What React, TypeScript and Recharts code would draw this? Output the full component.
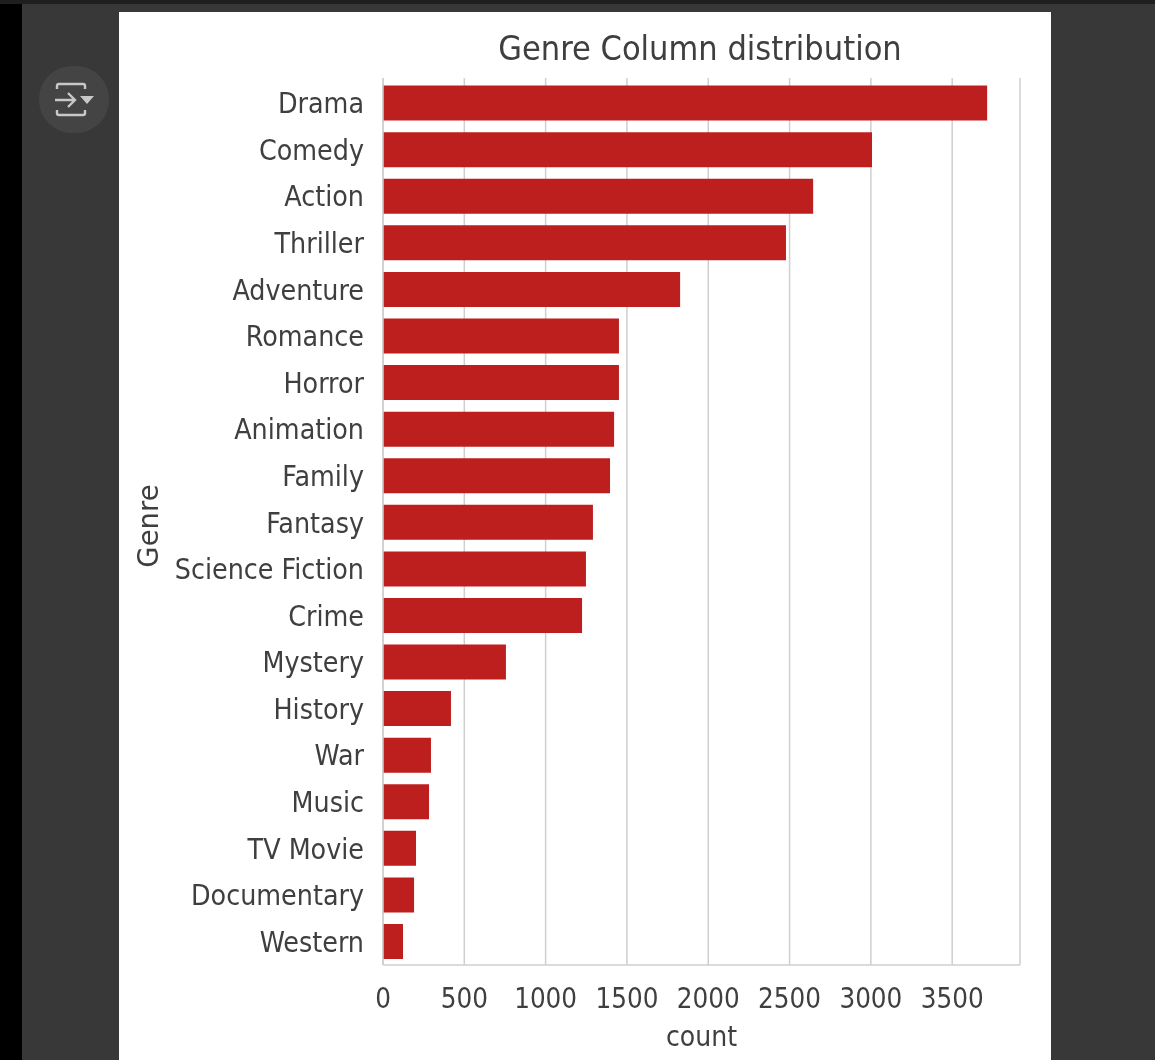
import { Bar, BarChart, CartesianGrid, XAxis, YAxis } from 'recharts'

const genres = ['Drama', 'Comedy', 'Action', 'Thriller', 'Adventure', 'Romance', 'Horror', 'Animation', 'Family', 'Fantasy', 'Science Fiction', 'Crime', 'Mystery', 'History', 'War', 'Music', 'TV Movie', 'Documentary', 'Western']
const counts = [3715, 3007, 2645, 2478, 1827, 1451, 1451, 1421, 1396, 1291, 1248, 1224, 756, 418, 295, 283, 203, 191, 123]
const countTicks = [0, 500, 1000, 1500, 2000, 2500, 3000, 3500]

const data = genres.map((genre, i) => ({ genre, count: counts[i] }))

const font = '"DejaVu Sans Condensed", "DejaVu Sans", sans-serif'
const textColor = '#3f3f3f'
const gridColor = '#cfcfcf'

function ExportIcon() {
  return (
    <div style={{ position: 'absolute', left: 39, top: 66, width: 70, height: 67, borderRadius: 33, background: '#444444' }}>
      <svg width={70} height={67} fill="none" stroke="#c8c8c8" strokeWidth={2.4}>
        <path d="M18 23 v-3 q0 -2 2 -2 h24 q2 0 2 2 v3" />
        <path d="M18 44 v3 q0 2 2 2 h24 q2 0 2 -2 v-3" />
        <path d="M16 34 h20 M29 27 l7 7 l-7 7" />
        <path d="M41 30 h14 l-7 8 z" fill="#c8c8c8" stroke="none" />
      </svg>
    </div>
  )
}

export default function App() {
  return (
    <div style={{ position: 'absolute', left: 0, top: 0, width: 1155, height: 1060, background: '#383838', overflow: 'hidden' }}>
      <div style={{ position: 'absolute', left: 0, top: 0, width: 22, height: 1060, background: '#000000' }} />
      <div style={{ position: 'absolute', left: 0, top: 0, width: 1155, height: 4, background: '#1f1f1f' }} />
      <ExportIcon />
      <div style={{ position: 'absolute', left: 119, top: 12, width: 932, height: 1048, background: '#ffffff' }} />
      <div style={{ position: 'absolute', left: 383, width: 634, top: 26, textAlign: 'center', fontFamily: font, fontSize: 34, lineHeight: '44px', color: textColor, filter: 'blur(0.7px)' }}>
        Genre Column distribution
      </div>
      <div style={{ position: 'absolute', left: 0, top: 0, filter: 'blur(0.7px)' }}>
        <BarChart
          width={1155}
          height={1060}
          data={data}
          layout="vertical"
          barCategoryGap="12%"
          margin={{ top: 78, right: 135, bottom: 0, left: 0 }}
        >
          <CartesianGrid horizontal={false} stroke={gridColor} strokeWidth={1.5} />
          <XAxis
            type="number"
            domain={[0, 3917]}
            ticks={countTicks}
            height={95}
            stroke={gridColor}
            strokeWidth={1.5}
            tickLine={false}
            tickMargin={17}
            tick={{ fill: textColor, fontSize: 27.5, fontFamily: font }}
            label={{ value: 'count', position: 'insideBottom', offset: 14, fill: textColor, fontSize: 28, fontFamily: font }}
          />
          <YAxis
            type="category"
            dataKey="genre"
            width={383}
            interval={0}
            padding={{ top: 2, bottom: 0 }}
            stroke={gridColor}
            strokeWidth={1.5}
            tickLine={false}
            tickMargin={13}
            tick={{ fill: textColor, fontSize: 28.3, fontFamily: font }}
            label={{ value: 'Genre', angle: -90, position: { x: 158, y: 448 }, textAnchor: 'middle', verticalAnchor: 'middle', fill: textColor, fontSize: 27.5, fontFamily: '"DejaVu Sans", sans-serif' }}
          />
          <Bar dataKey="count" fill="#bd1f1f" isAnimationActive={false} />
        </BarChart>
      </div>
    </div>
  )
}
